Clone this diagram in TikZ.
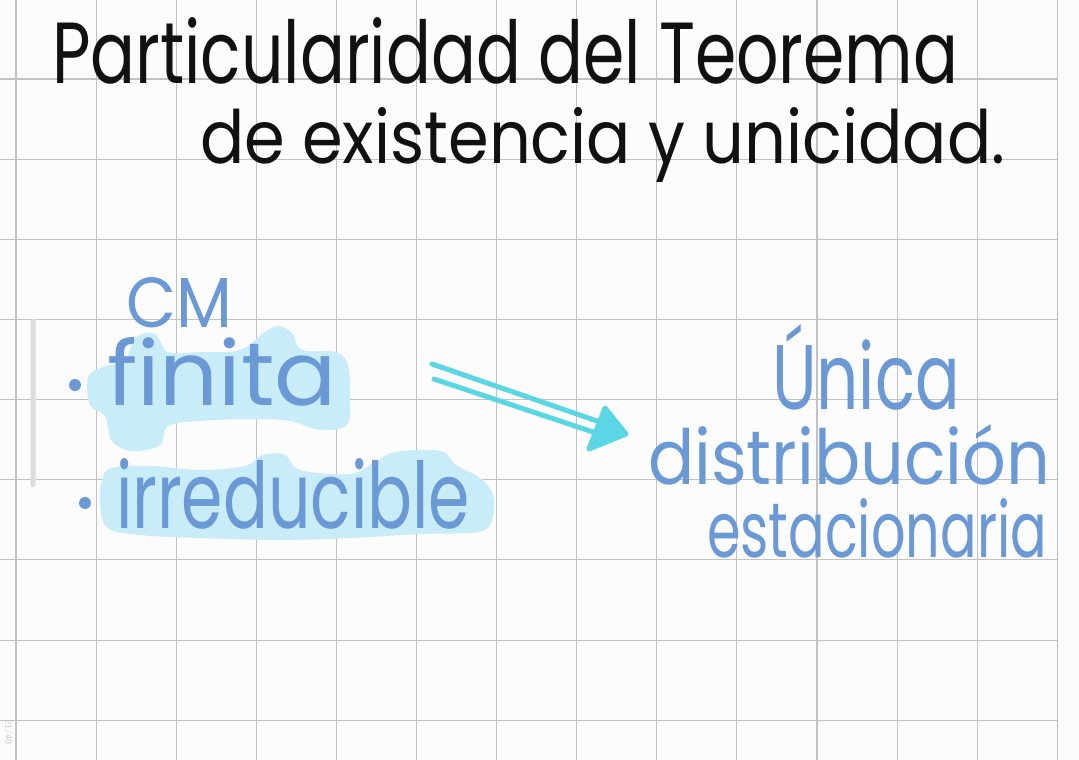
\documentclass[tikz,border=0pt]{standalone}
\usepackage{fontspec}
\usepackage{graphicx}
\newfontfamily\hand{Poppins}
\definecolor{ink}{HTML}{111111}
\definecolor{pen}{HTML}{6A99D6}
\definecolor{hl}{HTML}{C9ECF9}
\definecolor{cy}{HTML}{5BD6E4}
\definecolor{gridc}{HTML}{C2C2C2}
\definecolor{bg}{HTML}{FCFCFC}
\definecolor{scrollc}{HTML}{DDDDDD}
\definecolor{pagec}{HTML}{C8C8C8}
\begin{document}
\begin{tikzpicture}[x=1pt,y=-1pt,
  gridline/.style={draw=gridc, line width=1.1pt},
  txt/.style={anchor=base west, inner sep=0pt, outer sep=0pt},
  hlfill/.style={fill=hl, draw=none},
  arrowline/.style={draw=cy, line width=5pt, line cap=round, line join=round},
  bullet/.style={circle, fill=pen, inner sep=0pt, minimum size=12pt},
]
\useasboundingbox (0,0) rectangle (1079,760);
\fill[bg] (0,0) rectangle (1079,760);
% grid
\foreach \k in {0,...,13} \draw[gridline] ({16+80.1*\k},0) -- ({16+80.1*\k},760);
\foreach \k in {0,...,8} \draw[gridline] (0,{79+80.15*\k}) -- (1057,{79+80.15*\k});
% scrollbar
\fill[scrollc, rounded corners=2pt] (30.5,319) rectangle (35.5,487);
% page number
\node[rotate=-90, text=pagec, inner sep=0pt, font=\fontsize{10}{10}\selectfont\sffamily] (page) at (8,732) {21/40};
% highlights
\fill[hl] plot[smooth cycle, tension=0.6] coordinates {(88,378) (100,368) (125,360) (135,338) (155,334) (168,352) (200,352) (240,350) (262,334) (277,326) (292,333) (302,350) (335,352) (348,365) (350,400) (347,425) (320,430) (290,421) (250,419) (200,421) (168,426) (160,445) (132,451) (112,441) (105,416) (90,405)};
\fill[hl] plot[smooth cycle, tension=0.6] coordinates {(102,480) (112,468) (150,466) (200,470) (245,466) (262,455) (285,455) (300,470) (350,474) (375,462) (395,452) (440,451) (456,465) (480,478) (493,495) (492,520) (478,532) (420,534) (350,538) (280,540) (200,538) (140,535) (108,528) (100,505)};
% title
\node[txt, text=ink] (t1) at (52,83) {\resizebox{906pt}{66pt}{\hand Particularidad del Teorema}};
\node[txt, text=ink] (t2) at (200,163) {\resizebox{805pt}{56pt}{\hand de existencia y unicidad.}};
% left
\node[txt, text=pen] (cm) at (126,327) {\resizebox{106pt}{50pt}{\hand CM}};
\node[bullet] (b1) at (75,385) {};
\node[txt, text=pen] (fin) at (107,405) {\resizebox{230pt}{68pt}{\hand finita}};
\node[bullet] (b2) at (85,503) {};
\node[txt, text=pen] (irr) at (116,528) {\resizebox{354pt}{70pt}{\hand irreducible}};
% right
\node[txt, text=pen] (un) at (772,409) {\resizebox{188pt}{85pt}{\hand Única}};
\node[txt, text=pen] (dis) at (648,484) {\resizebox{402pt}{60pt}{\hand distribución}};
\node[txt, text=pen] (est) at (707,557) {\resizebox{340pt}{59pt}{\hand estacionaria}};
% arrow
\coordinate (u1) at (432,364);
\coordinate (u2) at (600,422);
\coordinate (l1) at (434,379);
\coordinate (l2) at (593,432);
\coordinate (h1) at (605,408);
\coordinate (h2) at (626,434);
\coordinate (h3) at (589,449);
\draw[arrowline] (u1) -- (u2);
\draw[arrowline] (l1) -- (l2);
\draw[arrowline, fill=cy] (h1) -- (h2) -- (h3) -- cycle;
\end{tikzpicture}
\end{document}
